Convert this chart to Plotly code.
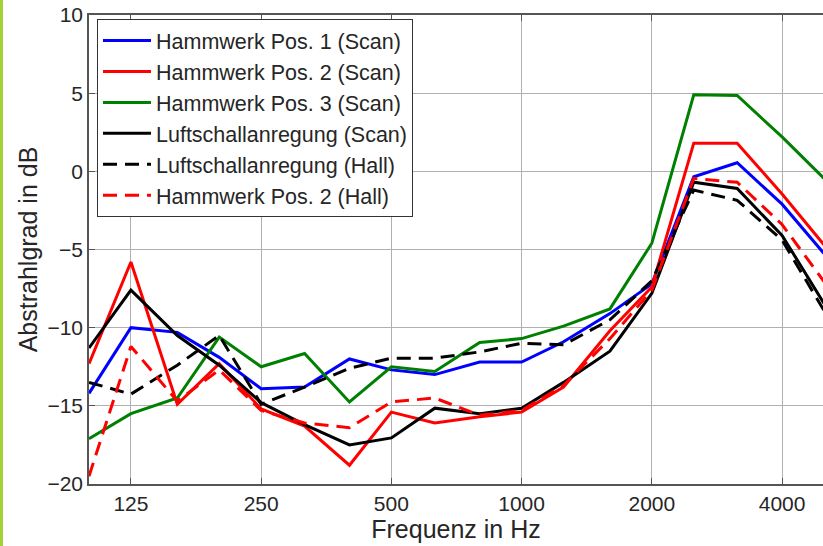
import math
import plotly.graph_objects as go

freqs = [100, 125, 160, 200, 250, 315, 400, 500, 630, 800, 1000, 1250, 1600, 2000, 2500, 3150, 4000, 5000]

hw_pos1_scan = [-14.2, -10.0, -10.3, -11.9, -13.9, -13.8, -12.0, -12.7, -13.0, -12.2, -12.2, -10.9, -9.1, -7.2, -0.35, 0.55, -2.1, -5.25]
hw_pos2_scan = [-12.3, -5.8, -14.9, -12.3, -15.2, -16.3, -18.8, -15.4, -16.1, -15.7, -15.4, -13.8, -10.2, -7.4, 1.8, 1.8, -1.45, -4.7]
hw_pos3_scan = [-17.1, -15.5, -14.5, -10.6, -12.5, -11.65, -14.75, -12.5, -12.8, -10.95, -10.7, -9.9, -8.8, -4.6, 4.9, 4.85, 2.2, -0.45]
luft_scan = [-11.3, -7.6, -10.5, -12.4, -14.8, -16.2, -17.5, -17.05, -15.15, -15.5, -15.15, -13.5, -11.5, -7.8, -0.7, -1.1, -4.1, -8.45]
luft_hall = [-13.5, -14.25, -12.4, -10.5, -14.9, -13.8, -12.6, -11.95, -11.95, -11.55, -11.0, -11.1, -9.5, -7.0, -1.2, -1.85, -4.4, -8.9]
hw_pos2_hall = [-19.5, -11.2, -14.7, -12.7, -15.3, -16.1, -16.4, -14.75, -14.5, -15.6, -15.3, -13.7, -10.7, -7.6, -0.45, -0.7, -3.4, -7.05]

x_tickvals = [125, 250, 500, 1000, 2000, 4000]
x_ticktext = ["125", "250", "500", "1000", "2000", "4000"]
y_tickvals = [-20, -15, -10, -5, 0, 5, 10]

series = [
    ("Hammwerk Pos. 1 (Scan)", hw_pos1_scan, "#0000ff", "solid"),
    ("Hammwerk Pos. 2 (Scan)", hw_pos2_scan, "#ff0000", "solid"),
    ("Hammwerk Pos. 3 (Scan)", hw_pos3_scan, "#008000", "solid"),
    ("Luftschallanregung (Scan)", luft_scan, "#000000", "solid"),
    ("Luftschallanregung (Hall)", luft_hall, "#000000", "14px,8px"),
    ("Hammwerk Pos. 2 (Hall)", hw_pos2_hall, "#ff0000", "14px,8px"),
]

fig = go.Figure()
for name, vals, color, dash in series:
    fig.add_trace(go.Scatter(x=freqs, y=vals, mode="lines", name=name,
                             line=dict(color=color, width=3, dash=dash)))

W, H = 823, 546
L, R, T, B = 89, 0, 15, 62
pw = W - L - R
ph = H - T - B

fig.update_layout(
    width=W, height=H,
    margin=dict(l=L, r=R, t=T, b=B),
    paper_bgcolor="white", plot_bgcolor="white",
    font=dict(family="Liberation Sans, Arial, sans-serif", size=21, color="#262626"),
    showlegend=True,
    legend=dict(x=(97 - L) / pw, y=1 - (19 - T) / ph, xanchor="left", yanchor="top",
                bgcolor="white", bordercolor="#333333", borderwidth=1,
                font=dict(size=21.5, color="#262626"), tracegroupgap=0,
                itemwidth=48),
    xaxis=dict(type="log", range=[2.0, 3.6967], tickvals=x_tickvals, ticktext=x_ticktext,
               showgrid=True, gridcolor="#b0b0b0", gridwidth=1.2,
               showline=True, linecolor="#555555", linewidth=1.5, mirror="ticks",
               ticks="inside", ticklen=6, tickcolor="#555555",
               title=dict(text="Frequenz in Hz", standoff=4), zeroline=False),
    yaxis=dict(range=[-20, 10], tickvals=y_tickvals,
               showgrid=True, gridcolor="#b0b0b0", gridwidth=1.2,
               showline=True, linecolor="#555555", linewidth=1.5,
               ticks="inside", ticklen=6, tickcolor="#555555",
               title=dict(text="Abstrahlgrad in dB", standoff=3), zeroline=False),
    shapes=[dict(type="rect", xref="paper", yref="paper",
                 x0=-L / pw, x1=(-L + 3) / pw, y0=-B / ph, y1=1 + T / ph,
                 fillcolor="#a4d03a", line=dict(width=0), layer="above")],
)

fig.write_html("out.html")
